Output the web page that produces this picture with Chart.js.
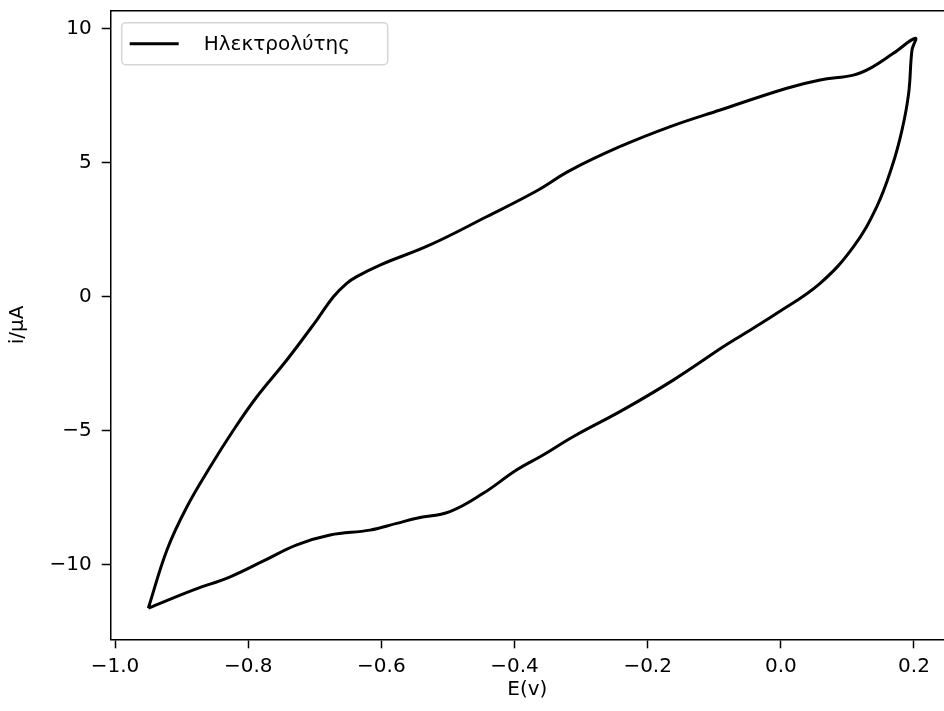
<!DOCTYPE html>
<html>
<head>
<meta charset="utf-8">
<script src="https://cdn.jsdelivr.net/npm/chart.js@4.4.1/dist/chart.umd.min.js"></script>
<style>
  html, body { margin: 0; padding: 0; background: #fff; }
  #wrap { width: 944px; height: 711px; }
</style>
</head>
<body>
<div id="wrap"><canvas id="cv" width="944" height="711"></canvas></div>
<script>
// Cyclic voltammogram: upper branch left->right, then back along the lower branch
const potential = [
  -0.950, -0.922, -0.892, -0.857, -0.822, -0.787, -0.742, -0.697, -0.672, -0.652,
  -0.637, -0.602, -0.527, -0.442, -0.367, -0.317, -0.242, -0.166, -0.091, 0.009,
  0.059, 0.109, 0.134, 0.169, 0.202,
  0.197, 0.192, 0.182, 0.167, 0.144, 0.109, 0.059, -0.006, -0.066, -0.086,
  -0.161, -0.237, -0.312, -0.357, -0.397, -0.447, -0.497, -0.547, -0.577, -0.617,
  -0.677, -0.727, -0.777, -0.827, -0.882, -0.950
];
const current = [
  -11.61, -9.44, -7.83, -6.34, -4.97, -3.73, -2.36, -0.87, 0.00, 0.50,
  0.75, 1.18, 1.93, 2.98, 3.94, 4.70, 5.59, 6.34, 6.96, 7.77,
  8.08, 8.26, 8.51, 9.07, 9.63,
  9.19, 7.58, 6.21, 4.85, 3.35, 1.86, 0.50, -0.62, -1.55, -1.86,
  -3.10, -4.22, -5.22, -5.90, -6.46, -7.33, -8.01, -8.26, -8.45, -8.70,
  -8.88, -9.25, -9.85, -10.44, -10.93, -11.61
];
const seriesName = 'Ηλεκτρολύτης';
const eTicks = [-1.0, -0.8, -0.6, -0.4, -0.2, 0.0, 0.2];
const iTicks = [-10, -5, 0, 5, 10];

const FONT = 'DejaVu Sans';
const minus = v => (v < 0 ? '\u2212' : '') + Math.abs(v);

// top spine + legend box drawn in the plot like matplotlib does
const framePlugin = {
    id: 'frame',
    afterDraw(chart) {
        const ctx = chart.ctx;
        const a = chart.chartArea;
        ctx.save();
        ctx.strokeStyle = '#000';
        ctx.lineWidth = 1.5;
        ctx.beginPath();
        ctx.moveTo(a.left, a.top);
        ctx.lineTo(a.right, a.top);
        ctx.stroke();

        // legend
        const ds = chart.data.datasets[0];
        const bx = a.left + 11, by = a.top + 12, bw = 266, bh = 42;
        ctx.fillStyle = 'rgba(255,255,255,0.8)';
        ctx.strokeStyle = '#d6d6d6';
        ctx.lineWidth = 1.5;
        ctx.beginPath();
        ctx.roundRect(bx, by, bw, bh, 4);
        ctx.fill();
        ctx.stroke();
        ctx.strokeStyle = ds.borderColor;
        ctx.lineWidth = ds.borderWidth;
        ctx.beginPath();
        ctx.moveTo(bx + 8, by + bh / 2);
        ctx.lineTo(bx + 57, by + bh / 2);
        ctx.stroke();
        ctx.fillStyle = '#000';
        ctx.font = '20px "' + FONT + '"';
        ctx.textBaseline = 'middle';
        ctx.fillText(ds.label, bx + 82, by + bh / 2 + 1);
        ctx.restore();
    }
};

const ctx = document.getElementById('cv').getContext('2d');
new Chart(ctx, {
    type: 'scatter',
    data: {
        datasets: [{
            label: seriesName,
            data: potential.map((e, k) => ({ x: e, y: current[k] })),
            showLine: true,
            borderColor: '#000',
            borderWidth: 3,
            pointRadius: 0,
            tension: 0.4,
            fill: false
        }]
    },
    options: {
        responsive: false,
        animation: false,
        devicePixelRatio: 1,
        layout: { padding: { top: 10.7, right: 0, left: 0, bottom: 0 } },
        plugins: {
            legend: { display: false },
            tooltip: { enabled: false }
        },
        scales: {
            x: {
                type: 'linear',
                min: -1.0065,
                max: 0.2451,
                afterBuildTicks: s => { s.ticks = eTicks.map(v => ({ value: v })); },
                afterFit: s => { s.height = 71.7; s.paddingLeft = 0; s.paddingRight = 0; },
                ticks: {
                    color: '#000',
                    font: { family: FONT, size: 20 },
                    padding: 6,
                    maxRotation: 0,
                    autoSkip: false,
                    callback: v => (v < 0 ? '\u2212' : '') + Math.abs(v).toFixed(1)
                },
                grid: { drawOnChartArea: false, drawTicks: true, tickLength: 9, tickColor: '#000', tickWidth: 1.5 },
                border: { display: true, color: '#000', width: 1.5 },
                title: { display: true, text: 'E(v)', color: '#000', font: { family: FONT, size: 20 }, padding: { top: 0, bottom: 9 } }
            },
            y: {
                type: 'linear',
                min: -12.77,
                max: 10.66,
                afterBuildTicks: s => { s.ticks = iTicks.map(v => ({ value: v })); },
                afterFit: s => { s.width = 110.7; s.paddingTop = 0; s.paddingBottom = 0; },
                ticks: {
                    color: '#000',
                    font: { family: FONT, size: 20 },
                    padding: 10,
                    autoSkip: false,
                    callback: v => minus(v)
                },
                grid: { drawOnChartArea: false, drawTicks: true, tickLength: 9, tickColor: '#000', tickWidth: 1.5 },
                border: { display: true, color: '#000', width: 1.5 },
                title: { display: true, text: 'i/μA', color: '#000', font: { family: FONT, size: 20 }, padding: { top: 6, bottom: 0 } }
            }
        }
    },
    plugins: [framePlugin]
});
</script>
</body>
</html>
